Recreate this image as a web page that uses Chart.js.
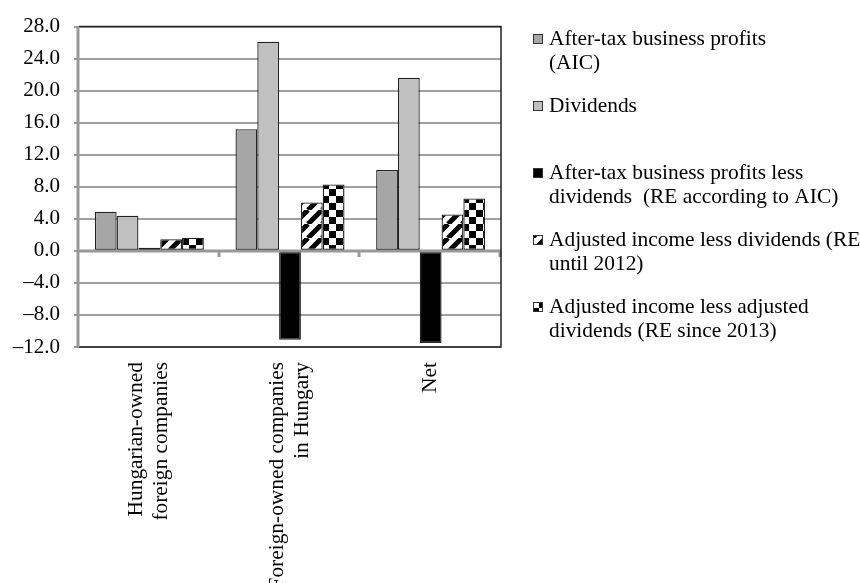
<!DOCTYPE html>
<html lang="en">
<head>
  <meta charset="UTF-8" />
  <title>Retained earnings</title>
  <style>
    html, body { margin: 0; padding: 0; background: #fff; }
    #wrap { width: 860px; height: 583px; }
  </style>
</head>
<body>
  <div id="wrap"><canvas id="reChart" width="860" height="583"></canvas></div>

<script src="https://cdn.jsdelivr.net/npm/chart.js"></script>
<script>
// data
const categories = [
  ["Hungarian-owned", "foreign companies"],
  ["Foreign-owned companies", "in Hungary"],
  ["Net"]
];
const afterTaxProfits = [4.9, 15.2, 10.1];
const dividends = [4.4, 26.1, 21.6];
const reAic = [0.4, -11.1, -11.5];
const reUntil2012 = [1.45, 6.05, 4.55];
const reSince2013 = [1.65, 8.3, 6.55];

const seriesLabels = [
  ["After-tax business profits", "(AIC)"],
  ["Dividends"],
  ["After-tax business profits less", "dividends  (RE according to AIC)"],
  ["Adjusted income less dividends (RE", "until 2012)"],
  ["Adjusted income less adjusted", "dividends (RE since 2013)"]
];
const yMin = -12, yMax = 28, yStep = 4;

const FONT = '"Liberation Serif", "Times New Roman", serif';
const FONT_SIZE = 21;
const TEXT_SIZE = 21.4;

// hatch fills
function stripePattern() {
  const w = 14, h = 14;
  const c = document.createElement("canvas");
  c.width = w; c.height = h;
  const g = c.getContext("2d");
  g.fillStyle = "#fff";
  g.fillRect(0, 0, w, h);
  g.strokeStyle = "#000";
  g.lineWidth = 5;
  for (let k = -1; k <= 1; k++) {
    g.beginPath();
    g.moveTo(w * (1 + k), 0);
    g.lineTo(w * k, h);
    g.stroke();
  }
  return g.createPattern(c, "repeat");
}

function checkerPattern() {
  const s = 7;
  const c = document.createElement("canvas");
  c.width = s * 2; c.height = s * 2;
  const g = c.getContext("2d");
  g.fillStyle = "#fff";
  g.fillRect(0, 0, s * 2, s * 2);
  g.fillStyle = "#000";
  g.fillRect(0, 0, s, s);
  g.fillRect(s, s, s, s);
  return g.createPattern(c, "repeat");
}

const fills = ["#a6a6a6", "#c0c0c0", "#000000", stripePattern(), checkerPattern()];
const seriesData = [afterTaxProfits, dividends, reAic, reUntil2012, reSince2013];

// frame, zero line, category labels and legend
const extras = {
  id: "extras",
  afterDatasetsDraw(chart) {
    const ctx = chart.ctx;
    const a = chart.chartArea;
    const y = chart.scales.y;
    const y0 = y.getPixelForValue(0);

    ctx.save();
    // zero line + its tick marks
    ctx.strokeStyle = "#999";
    ctx.lineWidth = 3;
    ctx.beginPath();
    ctx.moveTo(a.left, y0);
    ctx.lineTo(a.right, y0);
    const step = (a.right - a.left) / categories.length;
    for (let i = 1; i <= categories.length; i++) {
      const px = Math.round(a.left + step * i) - 1;
      ctx.moveTo(px, y0);
      ctx.lineTo(px, y0 + 6);
    }
    ctx.stroke();

    // dark frame top / right / bottom
    ctx.strokeStyle = "#222";
    ctx.lineWidth = 1.5;
    ctx.beginPath();
    ctx.moveTo(a.left, a.top);
    ctx.lineTo(a.right, a.top);
    ctx.lineTo(a.right, a.bottom);
    ctx.lineTo(a.left, a.bottom);
    ctx.stroke();

    // left axis
    ctx.strokeStyle = "#999";
    ctx.lineWidth = 3;
    ctx.beginPath();
    ctx.moveTo(a.left - 1, a.top);
    ctx.lineTo(a.left - 1, a.bottom);
    ctx.stroke();
    ctx.restore();
  },
  afterDraw(chart) {
    const ctx = chart.ctx;
    const a = chart.chartArea;
    const x = chart.scales.x;
    ctx.save();
    ctx.fillStyle = "#000";
    ctx.font = TEXT_SIZE + "px " + FONT;

    // rotated category labels
    const lh = 25;
    categories.forEach((lines, i) => {
      const cx = x.getPixelForValue(i);
      lines.forEach((t, j) => {
        const off = (j - (lines.length - 1) / 2) * lh;
        ctx.save();
        ctx.translate(cx + off, a.bottom + 15);
        ctx.rotate(-Math.PI / 2);
        ctx.textAlign = "right";
        ctx.textBaseline = "middle";
        ctx.fillText(t, 0, 0);
        ctx.restore();
      });
    });

    // legend
    const lx = 533, tx = 549, top = 39, gap = 67, llh = 24, box = 10;
    chart.data.datasets.forEach((ds, i) => {
      const yy = top + gap * i;
      ctx.fillStyle = ds.backgroundColor;
      ctx.fillRect(lx, yy - box / 2, box, box);
      ctx.strokeStyle = "#333";
      ctx.lineWidth = 1;
      ctx.strokeRect(lx + 0.5, yy - box / 2 + 0.5, box - 1, box - 1);
      ctx.fillStyle = "#000";
      ctx.textAlign = "left";
      ctx.textBaseline = "middle";
      ds.label.forEach((t, j) => ctx.fillText(t, tx, yy + j * llh));
    });
    ctx.restore();
  }
};

const ctx = document.getElementById("reChart").getContext("2d");
new Chart(ctx, {
  type: "bar",
  data: {
    labels: categories,
    datasets: seriesData.map((d, i) => ({
      label: seriesLabels[i],
      data: d,
      backgroundColor: fills[i],
      borderColor: "#222",
      borderWidth: 1.3,
      borderSkipped: false,
      barPercentage: 1,
      categoryPercentage: 0.775
    }))
  },
  options: {
    responsive: false,
    animation: false,
    devicePixelRatio: 1,
    layout: { padding: { left: 0, right: 359, top: 25, bottom: 0 } },
    plugins: { legend: { display: false }, tooltip: { enabled: false } },
    scales: {
      x: {
        grid: { display: false },
        border: { display: false },
        ticks: { display: false },
        afterFit: s => { s.height = 236; }
      },
      y: {
        min: yMin,
        max: yMax,
        afterFit: s => { s.width = 79; },
        border: { display: false },
        grid: {
          color: "#a0a0a0",
          lineWidth: 2,
          tickLength: 5,
          tickColor: "#999",
          tickWidth: 2
        },
        ticks: {
          stepSize: yStep,
          padding: 14,
          color: "#000",
          font: { family: FONT, size: FONT_SIZE },
          callback: v => (v < 0 ? "\u2013" : "") + Math.abs(v).toFixed(1)
        }
      }
    }
  },
  plugins: [extras]
});
</script>
</body>
</html>
